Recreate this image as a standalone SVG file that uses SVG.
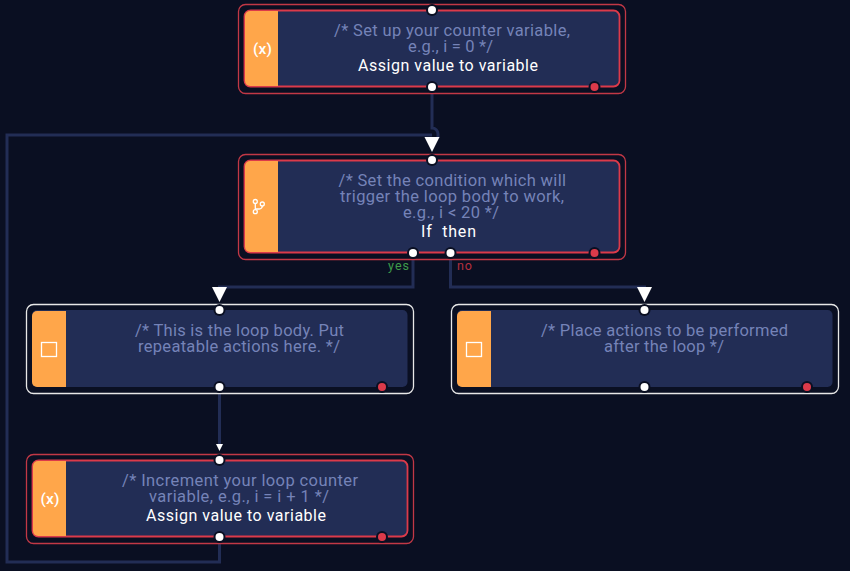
<svg xmlns="http://www.w3.org/2000/svg" width="850" height="571" viewBox="0 0 850 571">
<style>
.outer{fill:#0a0f22;stroke-width:1.300}
.outer.r{stroke:#c23846}.outer.w{stroke:#e8e8e8}
.inner{fill:#222d55}
.inner.r{stroke:#dc3a4a;stroke-width:1.800}
.bar{fill:#ffa64a}
.ring{fill:#0a0f22}
.dot{fill:#fff}.err{fill:#dc3a4a}
.c{fill:#7583b8;font:400 16.500px Roboto,"Liberation Sans",sans-serif}
.t{fill:#fff;font:400 16px Roboto,"Liberation Sans",sans-serif}
.i{fill:#fff;font:500 15.500px Roboto,"Liberation Sans",sans-serif}
.l{font:400 12.500px Roboto,"Liberation Sans",sans-serif}
.ln{fill:none;stroke:#222d55;stroke-width:3}
.ico{fill:none;stroke:#fff;stroke-width:1.300}
</style>
<defs>
<g id="p"><circle class="ring" r="6"/><circle class="dot" r="4"/></g>
<g id="e"><circle class="ring" r="6"/><circle class="err" r="4"/></g>
</defs>
<rect width="850" height="571" fill="#0a0f22"/>
<g id="connectors">
<path class="ln" d="M432 87V128a6 6 0 0 1 6 6v4"/>
<path class="ln" d="M219.500 537V562H7V135H432"/>
<path class="ln" d="M413 253V287H219.500V292"/>
<path class="ln" d="M450.500 253V287H644.500V292"/>
<path class="ln" d="M219.500 387V445"/>
<path fill="#fff" d="M424.500 137H439.500L432 152Z"/>
<path fill="#fff" d="M212 287H227L219.500 302Z"/>
<path fill="#fff" d="M637 287H652L644.500 302Z"/>
<path fill="#fff" d="M216 444H223L219.500 451Z"/>
</g>
<g id="node-init">
<rect class="outer r" x="238.500" y="4.500" width="387" height="89" rx="7"/>
<rect class="inner r" x="244.500" y="10.500" width="375" height="76" rx="6"/>
<path class="bar" d="M278 11V86H250a5 5 0 0 1-5-5V16a5 5 0 0 1 5-5Z"/>
<text class="i" x="253" y="54" textLength="19">(x)</text>
<text class="c" x="334" y="36" textLength="236">/* Set up your counter variable,</text>
<text class="c" x="408" y="52" textLength="85">e.g., i = 0 */</text>
<text class="t" x="358" y="71" textLength="180">Assign value to variable</text>
<use href="#p" x="432" y="10"/><use href="#p" x="432" y="87"/><use href="#e" x="594.500" y="87"/>
</g>
<g id="node-condition">
<rect class="outer r" x="238.500" y="154.500" width="387" height="105" rx="7"/>
<rect class="inner r" x="244.500" y="160.500" width="375" height="92" rx="6"/>
<path class="bar" d="M278 161V252H250a5 5 0 0 1-5-5V166a5 5 0 0 1 5-5Z"/>
<g class="ico"><circle cx="255.300" cy="201.500" r="2"/><circle cx="262.300" cy="204" r="2"/><circle cx="255.300" cy="211.700" r="2"/><path d="M255.300 203.500V209.700M262.300 206a3 3 0 0 1-3 3H255.300"/></g>
<text class="c" x="338.500" y="186" textLength="227.500">/* Set the condition which will</text>
<text class="c" x="340" y="202" textLength="224">trigger the loop body to work,</text>
<text class="c" x="403" y="218" textLength="96">e.g., i &lt; 20 */</text>
<text class="t" x="421" y="237" textLength="55" xml:space="preserve">If  then</text>
<use href="#p" x="432" y="160"/><use href="#p" x="413" y="253"/><use href="#p" x="450.500" y="253"/><use href="#e" x="594.500" y="253"/>
<text class="l" x="388" y="270" fill="#3f9c4a" textLength="21">yes</text>
<text class="l" x="457" y="270" fill="#b5303f" textLength="15">no</text>
</g>
<g id="node-body">
<rect class="outer w" x="26.500" y="304.500" width="387" height="89" rx="7"/>
<rect class="inner" x="32" y="310" width="375.500" height="77" rx="5"/>
<path class="bar" d="M66 311V387H37a5 5 0 0 1-5-5V316a5 5 0 0 1 5-5Z"/>
<rect class="ico" x="41.500" y="342.500" width="15" height="14"/>
<text class="c" x="135" y="336" textLength="209">/* This is the loop body. Put</text>
<text class="c" x="138" y="352" textLength="202">repeatable actions here. */</text>
<use href="#p" x="219.500" y="310"/><use href="#p" x="219.500" y="387"/><use href="#e" x="382" y="387"/>
</g>
<g id="node-after">
<rect class="outer w" x="451.500" y="304.500" width="387" height="89" rx="7"/>
<rect class="inner" x="457" y="310" width="375.500" height="77" rx="5"/>
<path class="bar" d="M491 311V387H462a5 5 0 0 1-5-5V316a5 5 0 0 1 5-5Z"/>
<rect class="ico" x="466.500" y="342.500" width="15" height="14"/>
<text class="c" x="541" y="336" textLength="247">/* Place actions to be performed</text>
<text class="c" x="604" y="352" textLength="120">after the loop */</text>
<use href="#p" x="644.500" y="310"/><use href="#p" x="644.500" y="387"/><use href="#e" x="807" y="387"/>
</g>
<g id="node-increment">
<rect class="outer r" x="26.500" y="454.500" width="387" height="89" rx="7"/>
<rect class="inner r" x="32.500" y="460.500" width="375" height="76" rx="6"/>
<path class="bar" d="M66 461V536H38a5 5 0 0 1-5-5V466a5 5 0 0 1 5-5Z"/>
<text class="i" x="40.500" y="504" textLength="19">(x)</text>
<text class="c" x="122" y="486" textLength="236">/* Increment your loop counter</text>
<text class="c" x="149" y="502" textLength="180">variable, e.g., i = i + 1 */</text>
<text class="t" x="146" y="521" textLength="180">Assign value to variable</text>
<use href="#p" x="219.500" y="460"/><use href="#p" x="219.500" y="537"/><use href="#e" x="382" y="537"/>
</g>
</svg>
